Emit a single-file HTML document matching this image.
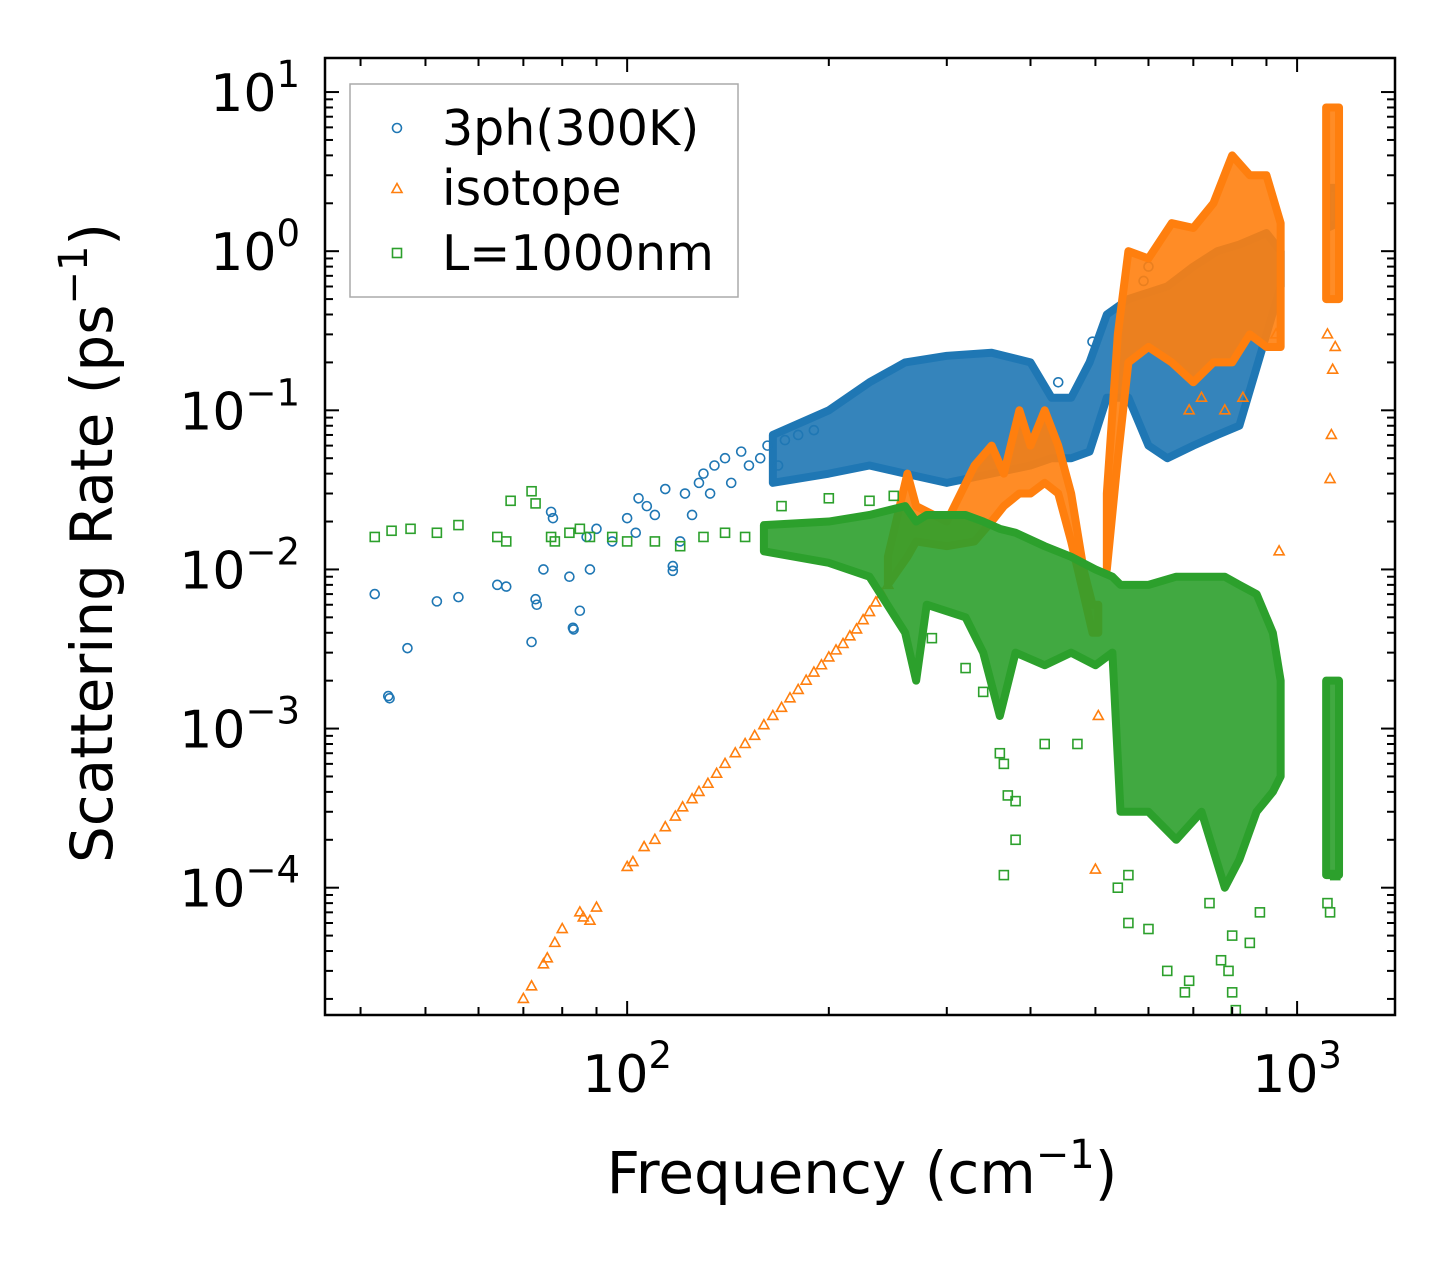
<!DOCTYPE html>
<html><head><meta charset="utf-8"><style>
html,body{margin:0;padding:0;background:#fff;}
svg{display:block;font-family:"DejaVu Sans","Liberation Sans",sans-serif;}
</style></head><body>
<svg id="chart" width="1455" height="1265" viewBox="0 0 1455 1265"></svg>
<script>
// ---- data (frequency cm^-1, rate ps^-1) ----
const blueScatter=[[42,0.007],[44,0.0016],[44.2,0.00155],[47,0.0032],[52,0.0063],[56,0.0067],[64,0.008],[66,0.0078],[72,0.0035],[73,0.0065],[73.3,0.006],[75,0.01],[77,0.023],[77.5,0.021],[82,0.009],[83,0.0043],[83.2,0.0042],[85,0.0055],[88,0.01],[87,0.016],[90,0.018],[95,0.015],[100,0.021],[103,0.017],[104,0.028],[107,0.025],[110,0.022],[114,0.032],[117,0.0098],[117,0.0105],[120,0.015],[122,0.03],[125,0.022],[128,0.035],[130,0.04],[133,0.03],[135,0.045],[140,0.05],[143,0.035],[148,0.055],[152,0.045],[158,0.05],[162,0.06],[168,0.045],[172,0.065],[180,0.07],[190,0.075],[600,0.8],[590,0.65],[495,0.27],[440,0.15]];
const blueBand=[[165,0.035,0.07],[200,0.04,0.1],[230,0.045,0.15],[260,0.04,0.2],[300,0.035,0.22],[350,0.04,0.23],[400,0.045,0.2],[430,0.05,0.12],[460,0.05,0.12],[490,0.055,0.2],[520,0.12,0.4],[560,0.12,0.5],[600,0.06,0.55],[640,0.05,0.6],[700,0.06,0.8],[760,0.07,1.0],[820,0.08,1.1],[900,0.3,1.3],[945,0.6,1.0]];
const blueBand2=[[1110,1.4,2.5],[1150,1.5,2.5]];
const orangeScatter=[[70,2e-5],[72,2.4e-5],[75,3.3e-5],[76,3.6e-5],[78,4.5e-5],[80,5.5e-5],[85,7e-5],[86,6.5e-5],[90,7.5e-5],[88,6.2e-5],[100,1.35e-4],[102,1.45e-4],[106,1.8e-4],[110,2e-4],[114,2.4e-4],[118,2.8e-4],[121,3.2e-4],[125,3.6e-4],[128,4e-4],[132,4.5e-4],[136,5.2e-4],[140,6e-4],[145,7e-4],[150,8e-4],[155,9e-4],[160,1.05e-3],[165,1.2e-3],[170,1.35e-3],[175,1.55e-3],[180,1.75e-3],[185,2e-3],[190,2.25e-3],[195,2.5e-3],[200,2.8e-3],[205,3.1e-3],[210,3.4e-3],[215,3.8e-3],[220,4.2e-3],[225,4.8e-3],[230,5.4e-3],[235,6.2e-3],[240,7e-3],[245,8e-3],[500,1.3e-4],[505,1.2e-3],[940,0.013],[1120,0.037],[1125,0.07],[1130,0.18],[690,0.1],[720,0.12],[780,0.1],[830,0.12],[930,0.3],[1110,0.3],[1140,0.25]];
const orangeBand=[[245,0.008,0.012],[262,0.012,0.04],[270,0.015,0.025],[300,0.014,0.02],[330,0.015,0.045],[350,0.02,0.06],[365,0.025,0.04],[385,0.03,0.1],[400,0.03,0.06],[420,0.035,0.1],[440,0.03,0.06],[460,0.015,0.03],[480,0.007,0.01],[495,0.004,0.006],[505,0.004,0.006]];
const orangeBand2=[[520,0.01,0.03],[540,0.05,0.3],[560,0.2,1.0],[600,0.25,0.9],[650,0.2,1.5],[700,0.15,1.4],[750,0.2,2.0],[800,0.2,4.0],[850,0.3,3.0],[900,0.25,3.0],[945,0.25,1.5]];
const orangeBand3=[[1105,0.5,8.0],[1155,0.5,8.0]];
const greenScatter=[[42,0.016],[44.5,0.0175],[47.5,0.018],[52,0.017],[56,0.019],[64,0.016],[66,0.015],[67,0.027],[72,0.031],[73,0.026],[77,0.016],[78,0.015],[82,0.017],[85,0.018],[88,0.016],[95,0.016],[100,0.015],[110,0.015],[120,0.014],[130,0.016],[140,0.017],[150,0.016],[170,0.025],[200,0.028],[230,0.027],[250,0.029],[285,0.0037],[320,0.0024],[340,0.0017],[360,0.0007],[365,0.0006],[370,0.00038],[380,0.00035],[365,0.00012],[380,0.0002],[420,0.0008],[470,0.0008],[540,0.0001],[560,0.00012],[560,6e-5],[600,5.5e-5],[640,3e-5],[680,2.2e-5],[690,2.6e-5],[740,8e-5],[770,3.5e-5],[800,5e-5],[810,1.7e-5],[850,4.5e-5],[880,7e-5],[800,2.2e-5],[790,3e-5],[1110,8e-5],[1120,7e-5],[1140,1.2e-4]];
const greenBand=[[160,0.013,0.019],[200,0.011,0.02],[230,0.009,0.022],[260,0.004,0.025],[270,0.002,0.02],[280,0.006,0.022],[320,0.005,0.022],[340,0.003,0.02],[360,0.0012,0.018],[380,0.003,0.017],[420,0.0025,0.014],[460,0.003,0.012],[500,0.0025,0.01],[530,0.003,0.009],[545,0.0003,0.008],[600,0.0003,0.008],[660,0.0002,0.009],[720,0.0003,0.009],[780,0.0001,0.009],[820,0.00015,0.008],[870,0.0003,0.007],[920,0.0004,0.004],[945,0.0005,0.002]];
const greenBand2=[[1105,0.00012,0.002],[1155,0.00012,0.002]];
const xTicks=[100,1000];
const yTicks=[-4,-3,-2,-1,0,1];

// ---- axes ----
const L=325,R=1395,T=58,B=1015;
const xMin=Math.log10(35.4),xMax=Math.log10(1400),yMin=-4.8,yMax=1.214;
const X=v=>L+(Math.log10(v)-xMin)/(xMax-xMin)*(R-L);
const Y=v=>B-(Math.log10(v)-yMin)/(yMax-yMin)*(B-T);
const NS="http://www.w3.org/2000/svg";
const svg=document.getElementById('chart');
function mk(tag,attrs,parent){const e=document.createElementNS(NS,tag);for(const k in attrs)e.setAttribute(k,attrs[k]);(parent||svg).appendChild(e);return e;}
const cols={b:'#1f77b4',o:'#ff7f0e',g:'#2ca02c'};
const clip=mk('clipPath',{id:'pc'});mk('rect',{x:L,y:T,width:R-L,height:B-T},clip);
const plot=mk('g',{'clip-path':'url(#pc)'});



function band(arr,c,name){
  let top=arr.map(p=>X(p[0])+','+Y(p[2])).join(' ');
  let bot=arr.slice().reverse().map(p=>X(p[0])+','+Y(p[1])).join(' ');
  const e=mk('polygon',{points:top+' '+bot,fill:c,'fill-opacity':0.9,stroke:c,'stroke-width':8,'stroke-linejoin':'round'},plot);
  
  
}
function marker(shape,x,y,c,g){
  let e;
  if(shape==='c')e=mk('circle',{cx:x,cy:y,r:4.5,fill:'none',stroke:c,'stroke-width':1.6},g);
  else if(shape==='t')e=mk('polygon',{points:`${x},${y-5.5} ${x-5},${y+3.5} ${x+5},${y+3.5}`,fill:'none',stroke:c,'stroke-width':1.6},g);
  else e=mk('rect',{x:x-4.5,y:y-4.5,width:9,height:9,fill:'none',stroke:c,'stroke-width':1.6},g);
  return e;
}
function scatter(arr,shape,c,name){
  const g=mk('g',{},plot);
  
  
  arr.forEach(p=>{const e=marker(shape,X(p[0]),Y(p[1]),c,g);
    
    });
}
band(blueBand,cols.b,'3ph-dense-band');band(blueBand2,cols.b,'3ph-high-band');
scatter(blueScatter,'c',cols.b,'3ph-series');
band(orangeBand,cols.o,'isotope-mid-band');band(orangeBand2,cols.o,'isotope-high-band');band(orangeBand3,cols.o,'isotope-top-band');
scatter(orangeScatter,'t',cols.o,'isotope-series');
band(greenBand,cols.g,'boundary-dense-band');band(greenBand2,cols.g,'boundary-top-band');
scatter(greenScatter,'s',cols.g,'boundary-series');

// frame
const fr=mk('rect',{x:L,y:T,width:R-L,height:B-T,fill:'none',stroke:'#000','stroke-width':2.5});

// ticks
const tg=mk('g',{stroke:'#000','stroke-width':2});

for(let d=1;d<=3;d++)for(let m=1;m<10;m++){const v=m*Math.pow(10,d);if(v<35.4||v>1400)continue;const x=X(v),len=m===1?14:8;
  mk('line',{x1:x,y1:B,x2:x,y2:B-len},tg);mk('line',{x1:x,y1:T,x2:x,y2:T+len},tg);}
for(let d=-5;d<=1;d++)for(let m=1;m<10;m++){const v=m*Math.pow(10,d);const lv=Math.log10(v);if(lv<yMin||lv>yMax)continue;const y=Y(v),len=m===1?14:8;
  mk('line',{x1:L,y1:y,x2:L+len,y2:y},tg);mk('line',{x1:R,y1:y,x2:R-len,y2:y},tg);}
xTicks.forEach(v=>{const t=mk('text',{x:X(v),y:1092,'font-size':52,'text-anchor':'middle',fill:'#000'});
  t.innerHTML='10<tspan dy="-24" font-size="37">'+Math.log10(v)+'</tspan>';
  });
yTicks.forEach(v=>{const t=mk('text',{x:300,y:Y(Math.pow(10,v))+19,'font-size':52,'text-anchor':'end',fill:'#000'});
  t.innerHTML='10<tspan dy="-24" font-size="37">'+(v<0?'\u2212'+(-v):v)+'</tspan>';
  });
</script>
<svg style="position:absolute;left:0;top:0" width="1455" height="1265">
<text x="862" y="1193" font-size="58" text-anchor="middle" font-family="DejaVu Sans,Liberation Sans,sans-serif">Frequency (cm<tspan dy="-25" font-size="40">−1</tspan><tspan dy="25">)</tspan></text>
<text transform="translate(112,543) rotate(-90)" font-size="58" text-anchor="middle" font-family="DejaVu Sans,Liberation Sans,sans-serif">Scattering Rate (ps<tspan dy="-25" font-size="40">−1</tspan><tspan dy="25">)</tspan></text>
<g font-family="DejaVu Sans,Liberation Sans,sans-serif" font-size="49">
<rect x="350" y="84" width="388" height="213" fill="#fff" fill-opacity="0.8" stroke="#aaa" stroke-width="1.5"/>
<circle cx="397" cy="128" r="4.5" fill="none" stroke="#1f77b4" stroke-width="1.6"/>
<text x="442" y="145">3ph(300K)</text>
<polygon points="397,183.5 392,192.5 402,192.5" fill="none" stroke="#ff7f0e" stroke-width="1.6"/>
<text x="442" y="205">isotope</text>
<rect x="392.5" y="248.5" width="9" height="9" fill="none" stroke="#2ca02c" stroke-width="1.6"/>
<text x="442" y="270">L=1000nm</text>
</g>
</svg>
</body></html>
